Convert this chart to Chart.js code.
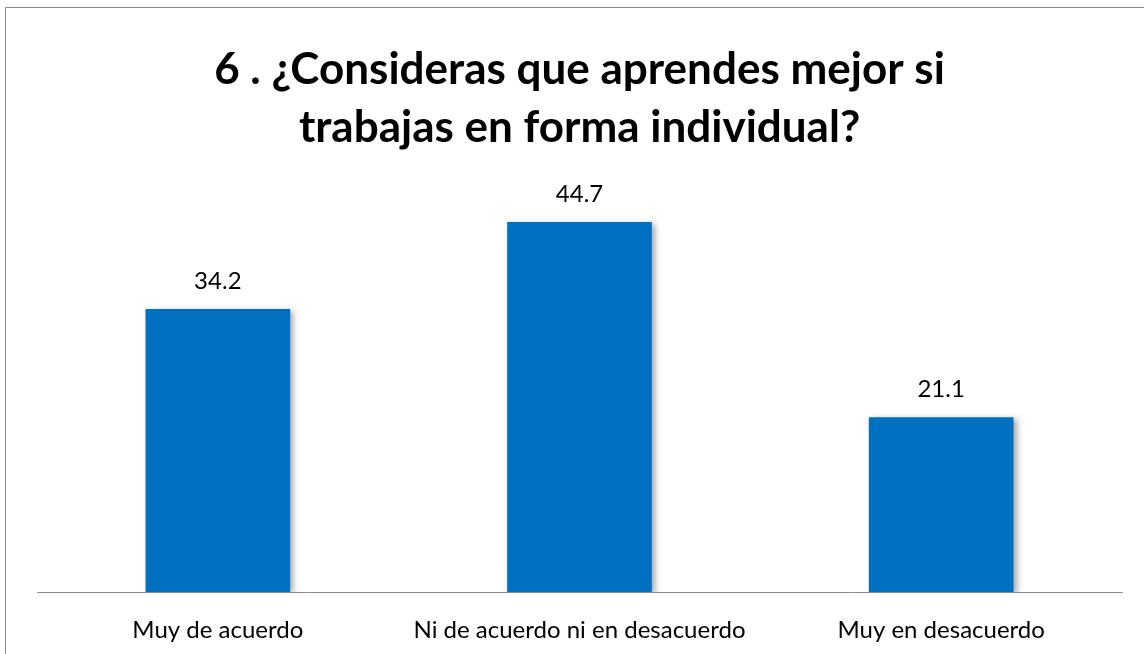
<!DOCTYPE html>
<html>
<head>
<meta charset="utf-8">
<script src="https://cdn.jsdelivr.net/npm/chart.js@4/dist/chart.umd.min.js"></script>
<style>
  html, body { margin: 0; padding: 0; background: #fff; }
  #wrap { position: relative; width: 1144px; height: 654px; }
  #frame { position: absolute; left: 5px; top: 7px; right: 0; bottom: 0;
           border-left: 1px solid #8c8c8c; border-top: 1px solid #8c8c8c; pointer-events: none; }
</style>
</head>
<body>
<div id="wrap">
  <canvas id="chart" width="1144" height="654"></canvas>
  <div id="frame"></div>
</div>
<script>
const categories = ['Muy de acuerdo', 'Ni de acuerdo ni en desacuerdo', 'Muy en desacuerdo'];
const percentages = [34.2, 44.7, 21.1];
const titleLines = ['6 . ¿Consideras que aprendes mejor si', 'trabajas en forma individual?'];

const fontFamily = 'Lato, "Open Sans", sans-serif';

// soft shadow behind the bars, like the office export
const barShadow = {
    id: 'barShadow',
    beforeDatasetsDraw(chart) {
        const ctx = chart.ctx;
        ctx.save();
        ctx.shadowColor = 'rgba(0, 0, 0, 0.35)';
        ctx.shadowBlur = 6;
        ctx.shadowOffsetX = 3;
        ctx.shadowOffsetY = 2;
    },
    afterDatasetsDraw(chart) {
        chart.ctx.restore();
    }
};

// value written above each bar
const valueLabels = {
    id: 'valueLabels',
    afterDatasetsDraw(chart) {
        const ctx = chart.ctx;
        const meta = chart.getDatasetMeta(0);
        ctx.save();
        ctx.fillStyle = '#000';
        ctx.font = '24px ' + fontFamily;
        ctx.textAlign = 'center';
        ctx.textBaseline = 'bottom';
        meta.data.forEach((bar, i) => {
            ctx.fillText(percentages[i].toFixed(1), bar.x, bar.y - 16);
        });
        ctx.restore();
    }
};

new Chart(document.getElementById('chart').getContext('2d'), {
    type: 'bar',
    data: {
        labels: categories,
        datasets: [{
            data: percentages,
            backgroundColor: '#0070C0',
            borderWidth: 0,
            categoryPercentage: 0.4,
            barPercentage: 1.0
        }]
    },
    options: {
        responsive: false,
        animation: false,
        layout: {
            padding: { left: 37, right: 22, top: 0, bottom: 0 }
        },
        plugins: {
            legend: { display: false },
            tooltip: { enabled: false },
            title: {
                display: true,
                text: titleLines,
                color: '#000',
                font: { family: fontFamily, size: 44, weight: 'bold', lineHeight: 1.32 },
                padding: { top: 41, bottom: 21 }
            }
        },
        scales: {
            x: {
                grid: { display: false, drawTicks: false },
                border: { display: true, color: '#8c8c8c', width: 1 },
                ticks: {
                    color: '#000',
                    font: { family: fontFamily, size: 24 },
                    padding: 24,
                    maxRotation: 0
                },
                afterFit(scale) {
                    scale.height = 62;
                }
            },
            y: {
                display: false,
                min: 0,
                max: 50
            }
        }
    },
    plugins: [barShadow, valueLabels]
});
</script>
</body>
</html>
